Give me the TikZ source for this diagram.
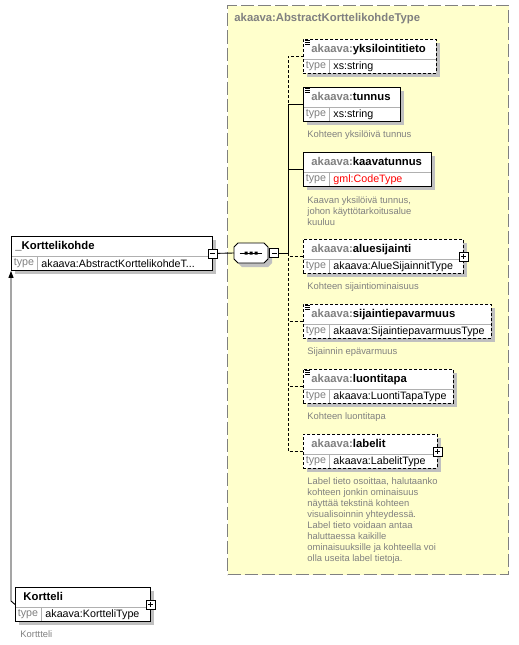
\documentclass[tikz,border=0pt]{standalone}
\usepackage{fontspec}
\setmainfont{Liberation Sans}
\usetikzlibrary{shapes.misc, shadows, arrows.meta, positioning}
\definecolor{nsgray}{RGB}{128,128,128}
\definecolor{boxyellow}{RGB}{255,255,204}
\definecolor{shadowgray}{RGB}{192,192,192}
\definecolor{linegray}{RGB}{176,176,176}
\newcommand{\namefont}{\bfseries\fontsize{11.3}{13}\selectfont}
\newcommand{\typefont}{\fontsize{10.7}{12}\selectfont}
\newcommand{\descfont}{\fontsize{9.4}{11}\selectfont}
\newcommand{\akns}{\textcolor{nsgray}{akaava:}}

\begin{document}
\begin{tikzpicture}[x=1pt, y=-1pt, line width=0.9pt,
        ctype/.style={draw=nsgray, fill=boxyellow, line width=1pt, dash pattern=on 13pt off 4pt, anchor=north west, inner sep=0pt},
        elem/.style={draw=black, fill=white, anchor=north west, minimum height=34, inner sep=0pt,
            drop shadow={shadow xshift=4pt, shadow yshift=-4pt, fill=shadowgray, opacity=1},
            path picture={
                \draw[solid, linegray] ([yshift=-20pt]path picture bounding box.north west) -- ([yshift=-20pt]path picture bounding box.north east);
                \draw[solid, linegray] ([shift={(26pt,-20pt)}]path picture bounding box.north west) -- ([xshift=26pt]path picture bounding box.south west);
                \node[anchor=west, text=nsgray, font=\typefont, inner sep=0pt, minimum width=0pt, minimum height=0pt, draw=none, fill=none]
                    at ([shift={(2pt,-27pt)}]path picture bounding box.north west) {type};
            }},
        optelem/.style={elem, dash pattern=on 3pt off 2pt},
        ename/.style={anchor=west, inner sep=0pt, font=\namefont, text height=8pt, text depth=2pt},
        tval/.style={anchor=west, inner sep=0pt, font=\typefont, text height=8pt, text depth=2pt},
        desc/.style={anchor=north west, align=left, inner sep=0pt, text=nsgray, font=\descfont},
        seqbox/.style={minimum width=34, minimum height=20, inner sep=0pt},
        pmbox/.style={draw, fill=white, solid, minimum size=9, inner sep=0pt},
        minusbox/.style={pmbox, path picture={
                \draw ([xshift=2pt]path picture bounding box.west) -- ([xshift=-2pt]path picture bounding box.east);}},
        plusbox/.style={pmbox, path picture={
                \draw ([xshift=2pt]path picture bounding box.west) -- ([xshift=-2pt]path picture bounding box.east)
                      ([yshift=-2pt]path picture bounding box.north) -- ([yshift=2pt]path picture bounding box.south);}},
        simpleicon/.pic={\draw[line width=0.8pt] (0,0) -- (5,0) (0,2) -- (5,2) (0,4) -- (5,4);},
        conn/.style={black},
        optconn/.style={black, dash pattern=on 3pt off 2pt},
    ]
    \useasboundingbox (0,0) rectangle (519,645);

    \node[ctype, minimum width=281, minimum height=569] (ctype) at (227,5) {};
    \node[anchor=west, inner sep=0pt, text=nsgray, font=\namefont] (ctname) at (234,19) {akaava:AbstractKorttelikohdeType};

    \node[elem, minimum width=201] (kk) at (11,236) {};
    \node[ename] (kk-n) at (15,246) {\_Korttelikohde};
    \node[tval] (kk-t) at (41,264) {akaava:AbstractKorttelikohdeT...};
    \node[minusbox] (kkm) at (kk.east) {};

    \node[elem, minimum width=135] (kort) at (15,587) {};
    \node[ename] (kort-n) at (23,597) {Kortteli};
    \node[tval] (kort-t) at (45,614) {akaava:KortteliType};
    \node[plusbox] (kortp) at (kort.east) {};
    \node[desc] (kort-d) at (20,630) {Korttteli};

    % sequence compositor
    \node[seqbox] (seq) at (251,253) {};
    \fill[shadowgray] ([shift={(4,4)}]seq.center) ++(-13,-10) -- ++(26,0) -- ++(4,4) -- ++(0,12) -- ++(-4,4) -- ++(-26,0) -- ++(-4,-4) -- ++(0,-12) -- cycle;
    \draw[fill=white] (seq.center) ++(-13,-10) -- ++(26,0) -- ++(4,4) -- ++(0,12) -- ++(-4,4) -- ++(-26,0) -- ++(-4,-4) -- ++(0,-12) -- cycle;
    \draw ([xshift=6pt]seq.west) -- ([xshift=-6pt]seq.east);
    \fill ([xshift=-6.5pt]seq.center) ++(0,-1.5) rectangle ++(3,3)
          ([xshift=-1.5pt]seq.center) ++(0,-1.5) rectangle ++(3,3)
          ([xshift=3.5pt]seq.center) ++(0,-1.5) rectangle ++(3,3);
    \node[minusbox, anchor=west] (seqm) at ([xshift=1pt]seq.east) {};
    \coordinate (spine) at (288,253);

    \node[optelem, minimum width=133] (yksi) at (303,39) {};
    \pic at ([shift={(2,1.5)}]yksi.north west) {simpleicon};
    \node[ename] (yksi-n) at (311,49) {\akns yksilointitieto};
    \node[tval] (yksi-t) at (333,66) {xs:string};

    \node[elem, minimum width=97] (tunnus) at (303,87) {};
    \pic at ([shift={(2,1.5)}]tunnus.north west) {simpleicon};
    \node[ename] (tunnus-n) at (311,97) {\akns tunnus};
    \node[tval] (tunnus-t) at (333,114) {xs:string};
    \node[desc] (tunnus-d) at (307,130.5) {Kohteen yksilöivä tunnus};

    \node[elem, minimum width=128] (kaava) at (303,152) {};
    \node[ename] (kaava-n) at (311,162) {\akns kaavatunnus};
    \node[tval] (kaava-t) at (333,179) {\textcolor{red}{gml:CodeType}};
    \node[desc] (kaava-d) at (307,196) {Kaavan yksilöivä tunnus,\\johon käyttötarkoitusalue\\kuuluu};

    \node[optelem, minimum width=160] (alue) at (303,239) {};
    \node[ename] (alue-n) at (311,249) {\akns aluesijainti};
    \node[tval] (alue-t) at (333,266) {akaava:AlueSijainnitType};
    \node[plusbox] (aluep) at (alue.east) {};
    \node[desc] (alue-d) at (307,282.5) {Kohteen sijaintiominaisuus};

    \node[optelem, minimum width=188] (sijainti) at (303,304) {};
    \pic at ([shift={(2,1.5)}]sijainti.north west) {simpleicon};
    \node[ename] (sijainti-n) at (311,314) {\akns sijaintiepavarmuus};
    \node[tval] (sijainti-t) at (333,331) {akaava:SijaintiepavarmuusType};
    \node[desc] (sijainti-d) at (307,347.5) {Sijainnin epävarmuus};

    \node[optelem, minimum width=150] (luonti) at (303,369) {};
    \pic at ([shift={(2,1.5)}]luonti.north west) {simpleicon};
    \node[ename] (luonti-n) at (311,379) {\akns luontitapa};
    \node[tval] (luonti-t) at (333,396) {akaava:LuontiTapaType};
    \node[desc] (luonti-d) at (307,412.5) {Kohteen luontitapa};

    \node[optelem, minimum width=134] (labelit) at (303,434) {};
    \node[ename] (labelit-n) at (311,444) {\akns labelit};
    \node[tval] (labelit-t) at (333,461) {akaava:LabelitType};
    \node[plusbox] (labelitp) at (labelit.east) {};
    \node[desc] (labelit-d) at (307,477.5) {Label tieto osoittaa, halutaanko\\kohteen jonkin ominaisuus\\näyttää tekstinä kohteen\\visualisoinnin yhteydessä.\\Label tieto voidaan antaa\\haluttaessa kaikille\\ominaisuuksille ja kohteella voi\\olla useita label tietoja.};

    \draw[conn] (kkm) -- ([xshift=-17pt]seq.center);
    \draw[conn] (seqm) -- (spine);
    \draw[optconn] (spine) |- (yksi.west);
    \draw[optconn] (spine) |- (alue.west);
    \draw[optconn] (spine) |- (sijainti.west);
    \draw[optconn] (spine) |- (luonti.west);
    \draw[optconn] (spine) |- (labelit.west);
    \draw[conn] (spine) |- (tunnus.west);
    \draw[conn] (spine) |- (kaava.west);

    \coordinate (bend) at (11,601);
    \draw[-{Triangle[length=7pt,width=5pt]}] (kort.west) -- (bend) -- (kk.south west);

\end{tikzpicture}
\end{document}
